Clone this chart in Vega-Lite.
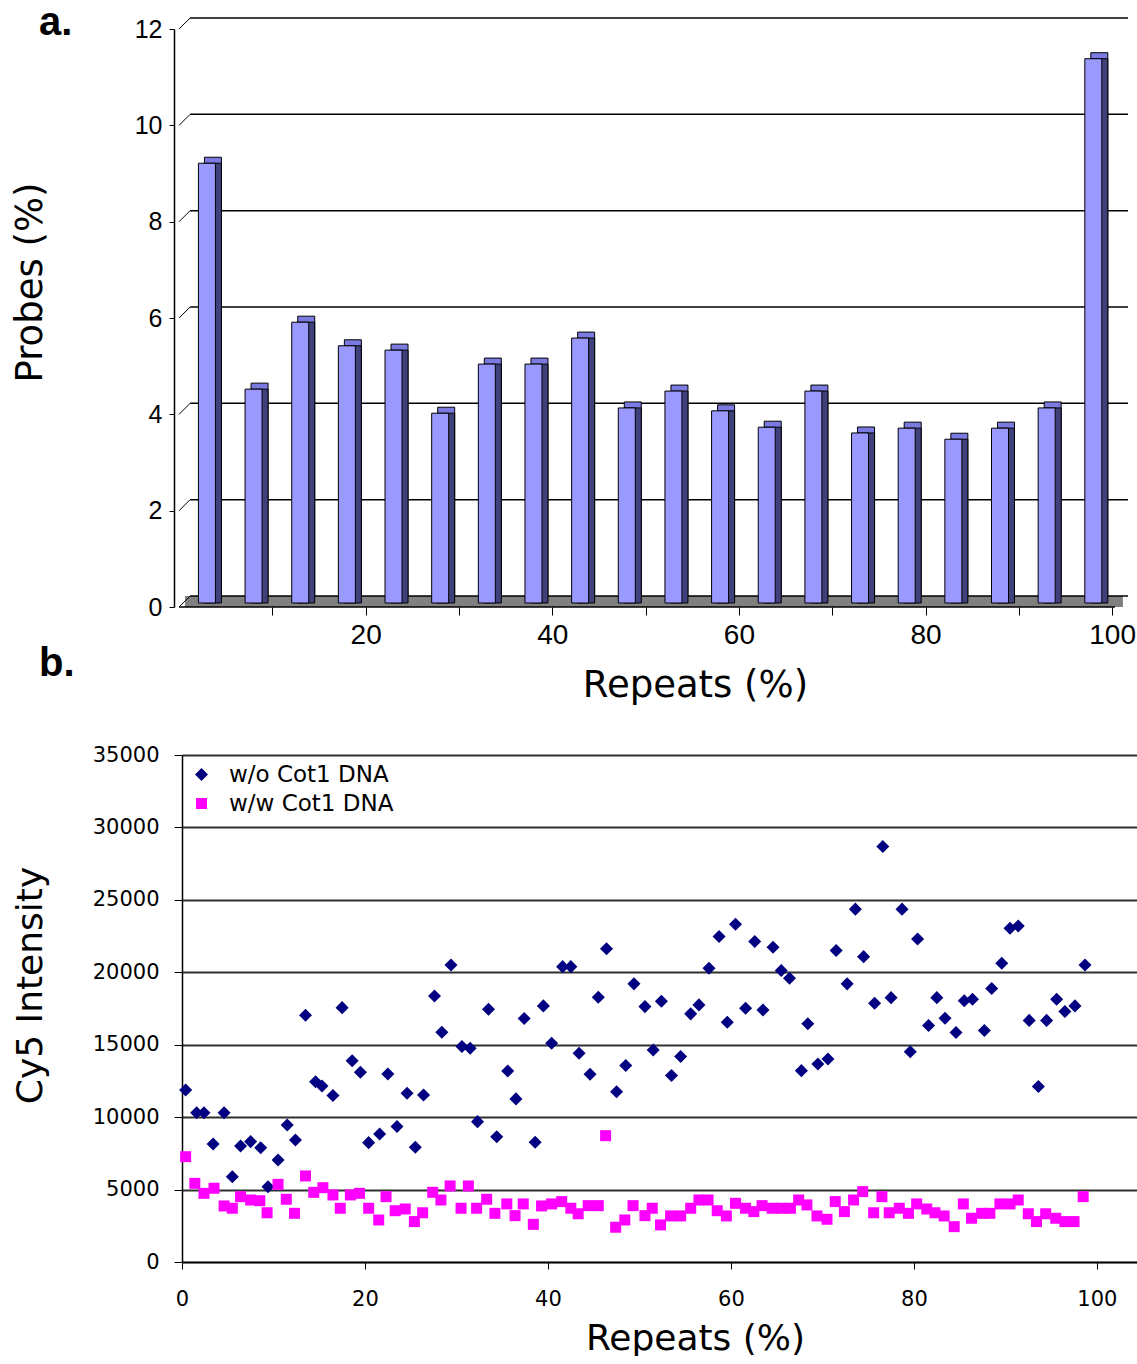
{
  "$schema": "https://vega.github.io/schema/vega-lite/v6.json",
  "background": "white",
  "padding": {"left": 10, "top": 3, "right": 0, "bottom": 0},
  "bounds": "flush",
  "spacing": 148,
  "config": {"font": "DejaVu Sans", "view": {"stroke": null}},
  "datasets": {
    "bars": [
      {"mid": 2.5, "pct": 9.13}, {"mid": 7.5, "pct": 4.44}, {"mid": 12.5, "pct": 5.83}, {"mid": 17.5, "pct": 5.34},
      {"mid": 22.5, "pct": 5.25}, {"mid": 27.5, "pct": 3.94}, {"mid": 32.5, "pct": 4.96}, {"mid": 37.5, "pct": 4.96},
      {"mid": 42.5, "pct": 5.5}, {"mid": 47.5, "pct": 4.05}, {"mid": 52.5, "pct": 4.4}, {"mid": 57.5, "pct": 3.99},
      {"mid": 62.5, "pct": 3.65}, {"mid": 67.5, "pct": 4.4}, {"mid": 72.5, "pct": 3.53}, {"mid": 77.5, "pct": 3.63},
      {"mid": 82.5, "pct": 3.4}, {"mid": 87.5, "pct": 3.63}, {"mid": 92.5, "pct": 4.05}, {"mid": 97.5, "pct": 11.3}
    ],
    "levels": [{"level": 0}, {"level": 2}, {"level": 4}, {"level": 6}, {"level": 8}, {"level": 10}, {"level": 12}],
    "floor": [{"level": 0, "from": 0, "to": 100.3}],
    "scatter": [
      {"repeats": 0.4, "intensity": 11880, "series": "w/o Cot1 DNA"},
      {"repeats": 1.6, "intensity": 10310, "series": "w/o Cot1 DNA"},
      {"repeats": 2.4, "intensity": 10310, "series": "w/o Cot1 DNA"},
      {"repeats": 3.4, "intensity": 8150, "series": "w/o Cot1 DNA"},
      {"repeats": 4.6, "intensity": 10300, "series": "w/o Cot1 DNA"},
      {"repeats": 5.5, "intensity": 5890, "series": "w/o Cot1 DNA"},
      {"repeats": 6.4, "intensity": 8010, "series": "w/o Cot1 DNA"},
      {"repeats": 7.5, "intensity": 8310, "series": "w/o Cot1 DNA"},
      {"repeats": 8.6, "intensity": 7890, "series": "w/o Cot1 DNA"},
      {"repeats": 9.4, "intensity": 5200, "series": "w/o Cot1 DNA"},
      {"repeats": 10.5, "intensity": 7040, "series": "w/o Cot1 DNA"},
      {"repeats": 11.5, "intensity": 9460, "series": "w/o Cot1 DNA"},
      {"repeats": 12.4, "intensity": 8420, "series": "w/o Cot1 DNA"},
      {"repeats": 13.5, "intensity": 17040, "series": "w/o Cot1 DNA"},
      {"repeats": 14.6, "intensity": 12450, "series": "w/o Cot1 DNA"},
      {"repeats": 15.3, "intensity": 12150, "series": "w/o Cot1 DNA"},
      {"repeats": 16.5, "intensity": 11490, "series": "w/o Cot1 DNA"},
      {"repeats": 17.5, "intensity": 17560, "series": "w/o Cot1 DNA"},
      {"repeats": 18.6, "intensity": 13900, "series": "w/o Cot1 DNA"},
      {"repeats": 19.5, "intensity": 13100, "series": "w/o Cot1 DNA"},
      {"repeats": 20.4, "intensity": 8240, "series": "w/o Cot1 DNA"},
      {"repeats": 21.6, "intensity": 8840, "series": "w/o Cot1 DNA"},
      {"repeats": 22.5, "intensity": 12980, "series": "w/o Cot1 DNA"},
      {"repeats": 23.5, "intensity": 9350, "series": "w/o Cot1 DNA"},
      {"repeats": 24.6, "intensity": 11650, "series": "w/o Cot1 DNA"},
      {"repeats": 25.5, "intensity": 7920, "series": "w/o Cot1 DNA"},
      {"repeats": 26.4, "intensity": 11530, "series": "w/o Cot1 DNA"},
      {"repeats": 27.6, "intensity": 18370, "series": "w/o Cot1 DNA"},
      {"repeats": 28.4, "intensity": 15860, "series": "w/o Cot1 DNA"},
      {"repeats": 29.4, "intensity": 20510, "series": "w/o Cot1 DNA"},
      {"repeats": 30.6, "intensity": 14870, "series": "w/o Cot1 DNA"},
      {"repeats": 31.5, "intensity": 14760, "series": "w/o Cot1 DNA"},
      {"repeats": 32.3, "intensity": 9690, "series": "w/o Cot1 DNA"},
      {"repeats": 33.5, "intensity": 17450, "series": "w/o Cot1 DNA"},
      {"repeats": 34.4, "intensity": 8650, "series": "w/o Cot1 DNA"},
      {"repeats": 35.6, "intensity": 13190, "series": "w/o Cot1 DNA"},
      {"repeats": 36.5, "intensity": 11260, "series": "w/o Cot1 DNA"},
      {"repeats": 37.4, "intensity": 16810, "series": "w/o Cot1 DNA"},
      {"repeats": 38.6, "intensity": 8270, "series": "w/o Cot1 DNA"},
      {"repeats": 39.5, "intensity": 17680, "series": "w/o Cot1 DNA"},
      {"repeats": 40.4, "intensity": 15100, "series": "w/o Cot1 DNA"},
      {"repeats": 41.6, "intensity": 20390, "series": "w/o Cot1 DNA"},
      {"repeats": 42.5, "intensity": 20390, "series": "w/o Cot1 DNA"},
      {"repeats": 43.4, "intensity": 14410, "series": "w/o Cot1 DNA"},
      {"repeats": 44.6, "intensity": 12960, "series": "w/o Cot1 DNA"},
      {"repeats": 45.5, "intensity": 18280, "series": "w/o Cot1 DNA"},
      {"repeats": 46.4, "intensity": 21620, "series": "w/o Cot1 DNA"},
      {"repeats": 47.5, "intensity": 11760, "series": "w/o Cot1 DNA"},
      {"repeats": 48.5, "intensity": 13560, "series": "w/o Cot1 DNA"},
      {"repeats": 49.4, "intensity": 19200, "series": "w/o Cot1 DNA"},
      {"repeats": 50.6, "intensity": 17630, "series": "w/o Cot1 DNA"},
      {"repeats": 51.5, "intensity": 14640, "series": "w/o Cot1 DNA"},
      {"repeats": 52.4, "intensity": 18000, "series": "w/o Cot1 DNA"},
      {"repeats": 53.5, "intensity": 12870, "series": "w/o Cot1 DNA"},
      {"repeats": 54.5, "intensity": 14180, "series": "w/o Cot1 DNA"},
      {"repeats": 55.6, "intensity": 17130, "series": "w/o Cot1 DNA"},
      {"repeats": 56.5, "intensity": 17750, "series": "w/o Cot1 DNA"},
      {"repeats": 57.6, "intensity": 20280, "series": "w/o Cot1 DNA"},
      {"repeats": 58.7, "intensity": 22470, "series": "w/o Cot1 DNA"},
      {"repeats": 59.6, "intensity": 16550, "series": "w/o Cot1 DNA"},
      {"repeats": 60.5, "intensity": 23320, "series": "w/o Cot1 DNA"},
      {"repeats": 61.6, "intensity": 17520, "series": "w/o Cot1 DNA"},
      {"repeats": 62.6, "intensity": 22120, "series": "w/o Cot1 DNA"},
      {"repeats": 63.5, "intensity": 17400, "series": "w/o Cot1 DNA"},
      {"repeats": 64.6, "intensity": 21730, "series": "w/o Cot1 DNA"},
      {"repeats": 65.5, "intensity": 20120, "series": "w/o Cot1 DNA"},
      {"repeats": 66.4, "intensity": 19590, "series": "w/o Cot1 DNA"},
      {"repeats": 67.7, "intensity": 13210, "series": "w/o Cot1 DNA"},
      {"repeats": 68.4, "intensity": 16440, "series": "w/o Cot1 DNA"},
      {"repeats": 69.5, "intensity": 13670, "series": "w/o Cot1 DNA"},
      {"repeats": 70.6, "intensity": 14020, "series": "w/o Cot1 DNA"},
      {"repeats": 71.5, "intensity": 21500, "series": "w/o Cot1 DNA"},
      {"repeats": 72.7, "intensity": 19200, "series": "w/o Cot1 DNA"},
      {"repeats": 73.6, "intensity": 24360, "series": "w/o Cot1 DNA"},
      {"repeats": 74.5, "intensity": 21080, "series": "w/o Cot1 DNA"},
      {"repeats": 75.7, "intensity": 17860, "series": "w/o Cot1 DNA"},
      {"repeats": 76.6, "intensity": 28680, "series": "w/o Cot1 DNA"},
      {"repeats": 77.5, "intensity": 18250, "series": "w/o Cot1 DNA"},
      {"repeats": 78.7, "intensity": 24360, "series": "w/o Cot1 DNA"},
      {"repeats": 79.6, "intensity": 14520, "series": "w/o Cot1 DNA"},
      {"repeats": 80.4, "intensity": 22300, "series": "w/o Cot1 DNA"},
      {"repeats": 81.6, "intensity": 16320, "series": "w/o Cot1 DNA"},
      {"repeats": 82.5, "intensity": 18250, "series": "w/o Cot1 DNA"},
      {"repeats": 83.4, "intensity": 16830, "series": "w/o Cot1 DNA"},
      {"repeats": 84.6, "intensity": 15840, "series": "w/o Cot1 DNA"},
      {"repeats": 85.5, "intensity": 18030, "series": "w/o Cot1 DNA"},
      {"repeats": 86.4, "intensity": 18140, "series": "w/o Cot1 DNA"},
      {"repeats": 87.7, "intensity": 15980, "series": "w/o Cot1 DNA"},
      {"repeats": 88.5, "intensity": 18880, "series": "w/o Cot1 DNA"},
      {"repeats": 89.6, "intensity": 20630, "series": "w/o Cot1 DNA"},
      {"repeats": 90.5, "intensity": 23040, "series": "w/o Cot1 DNA"},
      {"repeats": 91.4, "intensity": 23200, "series": "w/o Cot1 DNA"},
      {"repeats": 92.6, "intensity": 16680, "series": "w/o Cot1 DNA"},
      {"repeats": 93.6, "intensity": 12110, "series": "w/o Cot1 DNA"},
      {"repeats": 94.5, "intensity": 16680, "series": "w/o Cot1 DNA"},
      {"repeats": 95.6, "intensity": 18140, "series": "w/o Cot1 DNA"},
      {"repeats": 96.5, "intensity": 17290, "series": "w/o Cot1 DNA"},
      {"repeats": 97.6, "intensity": 17680, "series": "w/o Cot1 DNA"},
      {"repeats": 98.7, "intensity": 20510, "series": "w/o Cot1 DNA"},
      {"repeats": 0.4, "intensity": 7270, "series": "w/w Cot1 DNA"},
      {"repeats": 1.4, "intensity": 5430, "series": "w/w Cot1 DNA"},
      {"repeats": 2.4, "intensity": 4740, "series": "w/w Cot1 DNA"},
      {"repeats": 3.5, "intensity": 5090, "series": "w/w Cot1 DNA"},
      {"repeats": 4.6, "intensity": 3870, "series": "w/w Cot1 DNA"},
      {"repeats": 5.5, "intensity": 3710, "series": "w/w Cot1 DNA"},
      {"repeats": 6.4, "intensity": 4510, "series": "w/w Cot1 DNA"},
      {"repeats": 7.5, "intensity": 4280, "series": "w/w Cot1 DNA"},
      {"repeats": 8.5, "intensity": 4230, "series": "w/w Cot1 DNA"},
      {"repeats": 9.3, "intensity": 3400, "series": "w/w Cot1 DNA"},
      {"repeats": 10.5, "intensity": 5360, "series": "w/w Cot1 DNA"},
      {"repeats": 11.4, "intensity": 4330, "series": "w/w Cot1 DNA"},
      {"repeats": 12.3, "intensity": 3360, "series": "w/w Cot1 DNA"},
      {"repeats": 13.5, "intensity": 5940, "series": "w/w Cot1 DNA"},
      {"repeats": 14.4, "intensity": 4810, "series": "w/w Cot1 DNA"},
      {"repeats": 15.4, "intensity": 5130, "series": "w/w Cot1 DNA"},
      {"repeats": 16.5, "intensity": 4630, "series": "w/w Cot1 DNA"},
      {"repeats": 17.3, "intensity": 3710, "series": "w/w Cot1 DNA"},
      {"repeats": 18.4, "intensity": 4630, "series": "w/w Cot1 DNA"},
      {"repeats": 19.4, "intensity": 4740, "series": "w/w Cot1 DNA"},
      {"repeats": 20.4, "intensity": 3710, "series": "w/w Cot1 DNA"},
      {"repeats": 21.5, "intensity": 2900, "series": "w/w Cot1 DNA"},
      {"repeats": 22.3, "intensity": 4510, "series": "w/w Cot1 DNA"},
      {"repeats": 23.3, "intensity": 3540, "series": "w/w Cot1 DNA"},
      {"repeats": 24.4, "intensity": 3660, "series": "w/w Cot1 DNA"},
      {"repeats": 25.4, "intensity": 2790, "series": "w/w Cot1 DNA"},
      {"repeats": 26.3, "intensity": 3400, "series": "w/w Cot1 DNA"},
      {"repeats": 27.4, "intensity": 4810, "series": "w/w Cot1 DNA"},
      {"repeats": 28.3, "intensity": 4280, "series": "w/w Cot1 DNA"},
      {"repeats": 29.3, "intensity": 5250, "series": "w/w Cot1 DNA"},
      {"repeats": 30.5, "intensity": 3710, "series": "w/w Cot1 DNA"},
      {"repeats": 31.3, "intensity": 5250, "series": "w/w Cot1 DNA"},
      {"repeats": 32.2, "intensity": 3710, "series": "w/w Cot1 DNA"},
      {"repeats": 33.3, "intensity": 4330, "series": "w/w Cot1 DNA"},
      {"repeats": 34.2, "intensity": 3360, "series": "w/w Cot1 DNA"},
      {"repeats": 35.5, "intensity": 4010, "series": "w/w Cot1 DNA"},
      {"repeats": 36.4, "intensity": 3200, "series": "w/w Cot1 DNA"},
      {"repeats": 37.3, "intensity": 4010, "series": "w/w Cot1 DNA"},
      {"repeats": 38.4, "intensity": 2600, "series": "w/w Cot1 DNA"},
      {"repeats": 39.3, "intensity": 3870, "series": "w/w Cot1 DNA"},
      {"repeats": 40.4, "intensity": 4010, "series": "w/w Cot1 DNA"},
      {"repeats": 41.5, "intensity": 4170, "series": "w/w Cot1 DNA"},
      {"repeats": 42.5, "intensity": 3710, "series": "w/w Cot1 DNA"},
      {"repeats": 43.3, "intensity": 3330, "series": "w/w Cot1 DNA"},
      {"repeats": 44.4, "intensity": 3890, "series": "w/w Cot1 DNA"},
      {"repeats": 45.5, "intensity": 3890, "series": "w/w Cot1 DNA"},
      {"repeats": 46.3, "intensity": 8720, "series": "w/w Cot1 DNA"},
      {"repeats": 47.4, "intensity": 2400, "series": "w/w Cot1 DNA"},
      {"repeats": 48.4, "intensity": 2900, "series": "w/w Cot1 DNA"},
      {"repeats": 49.3, "intensity": 3890, "series": "w/w Cot1 DNA"},
      {"repeats": 50.6, "intensity": 3200, "series": "w/w Cot1 DNA"},
      {"repeats": 51.4, "intensity": 3710, "series": "w/w Cot1 DNA"},
      {"repeats": 52.3, "intensity": 2560, "series": "w/w Cot1 DNA"},
      {"repeats": 53.4, "intensity": 3180, "series": "w/w Cot1 DNA"},
      {"repeats": 54.5, "intensity": 3180, "series": "w/w Cot1 DNA"},
      {"repeats": 55.6, "intensity": 3710, "series": "w/w Cot1 DNA"},
      {"repeats": 56.5, "intensity": 4280, "series": "w/w Cot1 DNA"},
      {"repeats": 57.5, "intensity": 4280, "series": "w/w Cot1 DNA"},
      {"repeats": 58.5, "intensity": 3540, "series": "w/w Cot1 DNA"},
      {"repeats": 59.5, "intensity": 3180, "series": "w/w Cot1 DNA"},
      {"repeats": 60.5, "intensity": 4050, "series": "w/w Cot1 DNA"},
      {"repeats": 61.6, "intensity": 3710, "series": "w/w Cot1 DNA"},
      {"repeats": 62.5, "intensity": 3480, "series": "w/w Cot1 DNA"},
      {"repeats": 63.4, "intensity": 3890, "series": "w/w Cot1 DNA"},
      {"repeats": 64.5, "intensity": 3710, "series": "w/w Cot1 DNA"},
      {"repeats": 65.5, "intensity": 3710, "series": "w/w Cot1 DNA"},
      {"repeats": 66.5, "intensity": 3710, "series": "w/w Cot1 DNA"},
      {"repeats": 67.4, "intensity": 4280, "series": "w/w Cot1 DNA"},
      {"repeats": 68.3, "intensity": 3940, "series": "w/w Cot1 DNA"},
      {"repeats": 69.4, "intensity": 3180, "series": "w/w Cot1 DNA"},
      {"repeats": 70.5, "intensity": 2950, "series": "w/w Cot1 DNA"},
      {"repeats": 71.4, "intensity": 4170, "series": "w/w Cot1 DNA"},
      {"repeats": 72.4, "intensity": 3480, "series": "w/w Cot1 DNA"},
      {"repeats": 73.4, "intensity": 4280, "series": "w/w Cot1 DNA"},
      {"repeats": 74.4, "intensity": 4860, "series": "w/w Cot1 DNA"},
      {"repeats": 75.6, "intensity": 3400, "series": "w/w Cot1 DNA"},
      {"repeats": 76.5, "intensity": 4510, "series": "w/w Cot1 DNA"},
      {"repeats": 77.3, "intensity": 3400, "series": "w/w Cot1 DNA"},
      {"repeats": 78.4, "intensity": 3710, "series": "w/w Cot1 DNA"},
      {"repeats": 79.4, "intensity": 3360, "series": "w/w Cot1 DNA"},
      {"repeats": 80.3, "intensity": 4010, "series": "w/w Cot1 DNA"},
      {"repeats": 81.4, "intensity": 3660, "series": "w/w Cot1 DNA"},
      {"repeats": 82.3, "intensity": 3400, "series": "w/w Cot1 DNA"},
      {"repeats": 83.3, "intensity": 3180, "series": "w/w Cot1 DNA"},
      {"repeats": 84.4, "intensity": 2440, "series": "w/w Cot1 DNA"},
      {"repeats": 85.4, "intensity": 4010, "series": "w/w Cot1 DNA"},
      {"repeats": 86.3, "intensity": 3020, "series": "w/w Cot1 DNA"},
      {"repeats": 87.4, "intensity": 3360, "series": "w/w Cot1 DNA"},
      {"repeats": 88.3, "intensity": 3360, "series": "w/w Cot1 DNA"},
      {"repeats": 89.4, "intensity": 4010, "series": "w/w Cot1 DNA"},
      {"repeats": 90.5, "intensity": 4010, "series": "w/w Cot1 DNA"},
      {"repeats": 91.4, "intensity": 4280, "series": "w/w Cot1 DNA"},
      {"repeats": 92.5, "intensity": 3330, "series": "w/w Cot1 DNA"},
      {"repeats": 93.4, "intensity": 2790, "series": "w/w Cot1 DNA"},
      {"repeats": 94.4, "intensity": 3330, "series": "w/w Cot1 DNA"},
      {"repeats": 95.5, "intensity": 3020, "series": "w/w Cot1 DNA"},
      {"repeats": 96.5, "intensity": 2790, "series": "w/w Cot1 DNA"},
      {"repeats": 97.5, "intensity": 2790, "series": "w/w Cot1 DNA"},
      {"repeats": 98.5, "intensity": 4510, "series": "w/w Cot1 DNA"}
    ]
  },
  "vconcat": [
    {
      "width": 951,
      "height": 578,
      "title": {"text": "a.", "anchor": "start", "frame": "group", "dx": -143, "offset": -58, "baseline": "alphabetic", "font": "Liberation Sans", "fontSize": 40, "fontWeight": "bold", "color": "black"},
      "layer": [
        {
          "data": {"name": "bars"},
          "mark": {"type": "bar", "width": 17, "color": "#9999FF", "stroke": "black", "strokeWidth": 1, "xOffset": 4.5, "yOffset": -4, "y2Offset": -4, "opacity": 0},
          "encoding": {
            "x": {
              "field": "mid", "type": "quantitative",
              "scale": {"domain": [0.848, 101.7], "nice": false, "zero": false},
              "axis": {
                "values": [10, 20, 30, 40, 50, 60, 70, 80, 90, 100],
                "labelExpr": "datum.value % 20 === 0 ? datum.label : ''",
                "domain": false, "grid": false, "tickSize": 8, "tickColor": "black", "tickWidth": 1,
                "labelFont": "Liberation Sans", "labelFontSize": 28, "labelColor": "black", "labelPadding": 6,
                "labelOverlap": false, "labelFlush": false,
                "title": "Repeats (%)", "titleFont": "DejaVu Sans", "titleFontSize": 37, "titleFontWeight": "normal", "titleColor": "black",
                "titleX": 513, "titleY": 78, "titleAlign": "center", "titleBaseline": "middle"
              }
            },
            "y": {
              "field": "pct", "type": "quantitative",
              "scale": {"domain": [0, 12], "nice": false},
              "axis": {
                "values": [0, 2, 4, 6, 8, 10, 12], "offset": 8, "grid": false,
                "domain": true, "domainColor": "black", "domainWidth": 1.5,
                "tickSize": 5, "tickColor": "black",
                "labelFont": "Liberation Sans", "labelFontSize": 25, "labelColor": "black", "labelPadding": 7,
                "title": "Probes  (%)", "titleFont": "DejaVu Sans", "titleFontSize": 37, "titleFontWeight": "normal", "titleColor": "black",
                "titleX": -144, "titleY": 253, "titleAngle": -90, "titleAlign": "center", "titleBaseline": "middle"
              }
            }
          }
        },
        {
          "data": {"name": "floor"},
          "mark": {"type": "rect", "color": "#808080", "xOffset": 6, "x2Offset": 8, "y2Offset": -11},
          "encoding": {
            "x": {"field": "from", "type": "quantitative", "title": "Repeats (%)"},
            "x2": {"field": "to"},
            "y": {"field": "level", "type": "quantitative", "title": "Probes  (%)"},
            "y2": {"field": "level"}
          }
        },
        {
          "data": {"name": "levels"},
          "mark": {"type": "rule", "color": "black", "strokeWidth": 1.5, "xOffset": 11, "yOffset": -11},
          "encoding": {
            "x": {"datum": 0, "type": "quantitative", "title": "Repeats (%)"},
            "x2": {"datum": 101.7},
            "y": {"field": "level", "type": "quantitative", "title": "Probes  (%)"}
          }
        },
        {
          "data": {"name": "levels"},
          "mark": {"type": "rule", "color": "black", "strokeWidth": 1, "x2Offset": 11, "y2Offset": -11},
          "encoding": {
            "x": {"datum": 0, "type": "quantitative", "title": "Repeats (%)"},
            "x2": {"datum": 0},
            "y": {"field": "level", "type": "quantitative", "title": "Probes  (%)"},
            "y2": {"field": "level"}
          }
        },
        {
          "data": {"name": "floor"},
          "mark": {"type": "rule", "color": "black", "strokeWidth": 1.5},
          "encoding": {
            "x": {"field": "from", "type": "quantitative", "title": "Repeats (%)"},
            "x2": {"field": "to"},
            "y": {"field": "level", "type": "quantitative", "title": "Probes  (%)"}
          }
        },
        {
          "data": {"name": "bars"},
          "mark": {"type": "bar", "width": 17, "color": "#7A7AE0", "stroke": "black", "strokeWidth": 1, "xOffset": 10.5, "yOffset": -10, "y2Offset": -10},
          "encoding": {
            "x": {"field": "mid", "type": "quantitative", "title": "Repeats (%)"},
            "y": {"field": "pct", "type": "quantitative", "title": "Probes  (%)"}
          }
        },
        {
          "data": {"name": "bars"},
          "mark": {"type": "bar", "width": 17, "color": "#40407A", "stroke": "black", "strokeWidth": 1, "xOffset": 10.5, "yOffset": -4, "y2Offset": -7},
          "encoding": {
            "x": {"field": "mid", "type": "quantitative", "title": "Repeats (%)"},
            "y": {"field": "pct", "type": "quantitative", "title": "Probes  (%)"}
          }
        },
        {
          "data": {"name": "bars"},
          "mark": {"type": "bar", "width": 17, "color": "#9999FF", "stroke": "black", "strokeWidth": 1, "xOffset": 4.5, "yOffset": -4, "y2Offset": -4},
          "encoding": {
            "x": {"field": "mid", "type": "quantitative", "title": "Repeats (%)"},
            "y": {"field": "pct", "type": "quantitative", "title": "Probes  (%)"}
          }
        }
      ]
    },
    {
      "width": 957,
      "height": 507,
      "title": {"text": "b.", "anchor": "start", "frame": "group", "dx": -143, "offset": 28, "baseline": "alphabetic", "font": "Liberation Sans", "fontSize": 40, "fontWeight": "bold", "color": "black"},
      "data": {"name": "scatter"},
      "mark": {"type": "point", "filled": true, "opacity": 1},
      "encoding": {
        "x": {
          "field": "repeats", "type": "quantitative",
          "scale": {"domain": [0, 104.6], "nice": false, "zero": false},
          "axis": {
            "values": [0, 20, 40, 60, 80, 100], "grid": false,
            "domainColor": "black", "domainWidth": 1.5, "tickSize": 7, "tickColor": "black",
            "labelFont": "DejaVu Sans", "labelFontSize": 21, "labelColor": "black", "labelPadding": 19, "labelFlush": false,
            "title": "Repeats (%)", "titleFont": "DejaVu Sans", "titleFontSize": 36, "titleFontWeight": "normal", "titleColor": "black",
            "titleX": 513, "titleY": 76, "titleAlign": "center", "titleBaseline": "middle"
          }
        },
        "y": {
          "field": "intensity", "type": "quantitative",
          "scale": {"domain": [0, 35000], "nice": false},
          "axis": {
            "values": [0, 5000, 10000, 15000, 20000, 25000, 30000, 35000], "format": "d",
            "grid": true, "gridColor": "#303030", "gridWidth": 2,
            "domainColor": "black", "domainWidth": 1.5, "tickSize": 8, "tickColor": "black",
            "labelFont": "DejaVu Sans", "labelFontSize": 21, "labelColor": "black", "labelPadding": 15,
            "title": "Cy5 Intensity", "titleFont": "DejaVu Sans", "titleFontSize": 36, "titleFontWeight": "normal", "titleColor": "black",
            "titleX": -152, "titleY": 230, "titleAngle": -90, "titleAlign": "center", "titleBaseline": "middle"
          }
        },
        "color": {
          "field": "series", "type": "nominal",
          "scale": {"domain": ["w/o Cot1 DNA", "w/w Cot1 DNA"], "range": ["#000080", "#FF00FF"]},
          "legend": {
            "title": null, "orient": "none", "legendX": 8, "legendY": 734, "padding": 0,
            "labelFont": "DejaVu Sans", "labelFontSize": 23, "labelColor": "black", "labelOffset": 16, "labelLimit": 400,
            "symbolSize": 180, "symbolStrokeWidth": 0, "rowPadding": 5
          }
        },
        "shape": {
          "field": "series", "type": "nominal",
          "scale": {"domain": ["w/o Cot1 DNA", "w/w Cot1 DNA"], "range": ["diamond", "square"]}
        },
        "size": {
          "field": "series", "type": "nominal",
          "scale": {"domain": ["w/o Cot1 DNA", "w/w Cot1 DNA"], "range": [170, 121]},
          "legend": null
        }
      }
    }
  ]
}
